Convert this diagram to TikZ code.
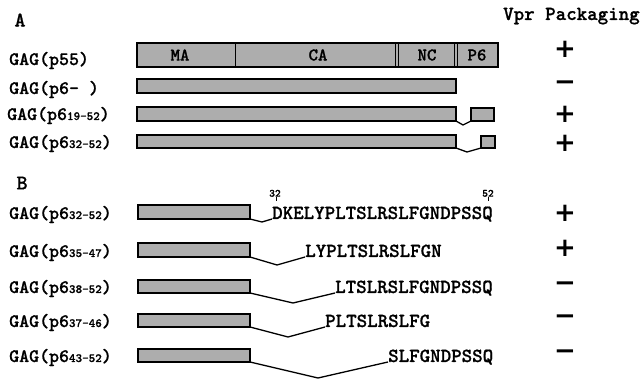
\documentclass[tikz,border=0pt]{standalone}
\usepackage{fontspec}
\newfontfamily\signfont{DejaVu Sans}
\newfontfamily\cour[FakeBold=0.8]{lmmonolt10-bold.otf}
\newcommand{\rng}[1]{{\fontsize{12.5}{14}\selectfont #1}}
\tikzset{
  bar/.style={draw, line width=1.3pt, fill=black!32, anchor=north west, inner sep=0pt, outer sep=0pt},
  lbl/.style={anchor=base west, inner sep=0pt, font=\cour\fontsize{19}{21}\selectfont},
  seq/.style={anchor=base west, inner sep=0pt, font=\cour\fontsize{20}{22}\selectfont},
  part/.style={font=\cour\fontsize{18}{19}\selectfont},
  resnum/.style={anchor=south, inner sep=0pt, font=\cour\fontsize{11}{12}\selectfont},
  sign/.style={anchor=base, inner sep=0pt, font=\fontsize{26}{28}\selectfont\signfont\bfseries},
  link/.style={line width=1.3pt}
}
\begin{document}
\begin{tikzpicture}[x=1pt,y=-1pt]
\useasboundingbox (0,0) rectangle (643,379);
% panel A
\node[anchor=west, font=\cour\fontsize{21}{22}\selectfont] (A) at (11,20) {A};
\node[lbl, font=\cour\fontsize{20}{22}\selectfont] (vpr) at (503,20) {Vpr Packaging};

\node[lbl] (la1) at (9,65) {GAG(p55)};
\node[bar, minimum width=361pt, minimum height=24pt] (a1) at (137,43) {};
\draw[line width=1pt] (235,43) -- (235,67);
\draw[line width=1pt] (395.5,43) -- (395.5,67) (398.5,43) -- (398.5,67);
\draw[line width=1pt] (454,43) -- (454,67) (457,43) -- (457,67);
\node[part] (ma) at (180,55) {MA};
\node[part] (ca) at (318,55) {CA};
\node[part] (nc) at (427,55) {NC};
\node[part] (p6) at (477,55) {P6};
\node[sign] (s1) at (565,57.5) {+};

\node[lbl] (la2) at (9,94) {GAG(p6- )};
\node[bar, minimum width=319pt, minimum height=14pt] (a2) at (137,79) {};
\node[sign] (s2) at (565,90.5) {−};

\node[lbl] (la3) at (7,120) {GAG(p6\rng{19-52})};
\node[bar, minimum width=319pt, minimum height=14pt] (a3) at (137,107) {};
\node[bar, minimum width=23pt, minimum height=13pt] (b3) at (471,108) {};
\coordinate (k3) at (463,125);
\draw[link] (a3.south east) -- (k3) -- (b3.south west);
\node[sign] (s3) at (565,122.5) {+};

\node[lbl] (la4) at (9,148) {GAG(p6\rng{32-52})};
\node[bar, minimum width=319pt, minimum height=13pt] (a4) at (137,135) {};
\node[bar, minimum width=14pt, minimum height=12pt] (b4) at (481,136) {};
\coordinate (k4) at (467,152);
\draw[link] (a4.south east) -- (k4) -- (b4.south west);
\node[sign] (s4) at (565,152) {+};

% panel B
\node[anchor=west, font=\cour\fontsize{21}{22}\selectfont] (B) at (13,183) {B};

\node[lbl] (lb1) at (9,219) {GAG(p6\rng{32-52})};
\node[bar, minimum width=112pt, minimum height=14pt] (c1) at (138,205) {};
\node[seq] (q1) at (272,219) {DKELYPLTSLRSLFGNDPSSQ};
\coordinate (k5) at (262,222);
\draw[link] (c1.south east) -- (k5) -- (q1.base west);
\node[resnum] (n32) at (275,197) {32};
\node[resnum] (n52) at (488,197) {52};
\coordinate (t32) at (276,201);
\coordinate (t52) at (488,201);
\draw[line width=0.9pt] (n32.south -| t32) -- (t32);
\draw[line width=0.9pt] (n52.south) -- (t52);
\node[sign] (s5) at (565,221.5) {+};

\node[lbl] (lb2) at (9,257) {GAG(p6\rng{35-47})};
\node[bar, minimum width=112pt, minimum height=14pt] (c2) at (138,243) {};
\node[seq] (q2) at (305,257) {LYPLTSLRSLFGN};
\coordinate (k6) at (277,265);
\draw[link] (c2.south east) -- (k6) -- (q2.base west);
\node[sign] (s6) at (565,257) {+};

\node[lbl] (lb3) at (9,293) {GAG(p6\rng{38-52})};
\node[bar, minimum width=112pt, minimum height=13pt] (c3) at (138,280) {};
\node[seq] (q3) at (335,293) {LTSLRSLFGNDPSSQ};
\coordinate (k7) at (293,303);
\draw[link] (c3.south east) -- (k7) -- (q3.base west);
\node[sign] (s7) at (565,291.5) {−};

\node[lbl] (lb4) at (9,327) {GAG(p6\rng{37-46})};
\node[bar, minimum width=112pt, minimum height=13pt] (c4) at (138,314) {};
\node[seq] (q4) at (325,327) {PLTSLRSLFG};
\coordinate (k8) at (288,337);
\draw[link] (c4.south east) -- (k8) -- (q4.base west);
\node[sign] (s8) at (565,324.5) {−};

\node[lbl] (lb5) at (9,362) {GAG(p6\rng{43-52})};
\node[bar, minimum width=112pt, minimum height=13pt] (c5) at (138,349) {};
\node[seq] (q5) at (388,362) {SLFGNDPSSQ};
\coordinate (k9) at (318,378);
\draw[link] (c5.south east) -- (k9) -- (q5.base west);
\node[sign] (s9) at (565,359.5) {−};
\end{tikzpicture}
\end{document}
